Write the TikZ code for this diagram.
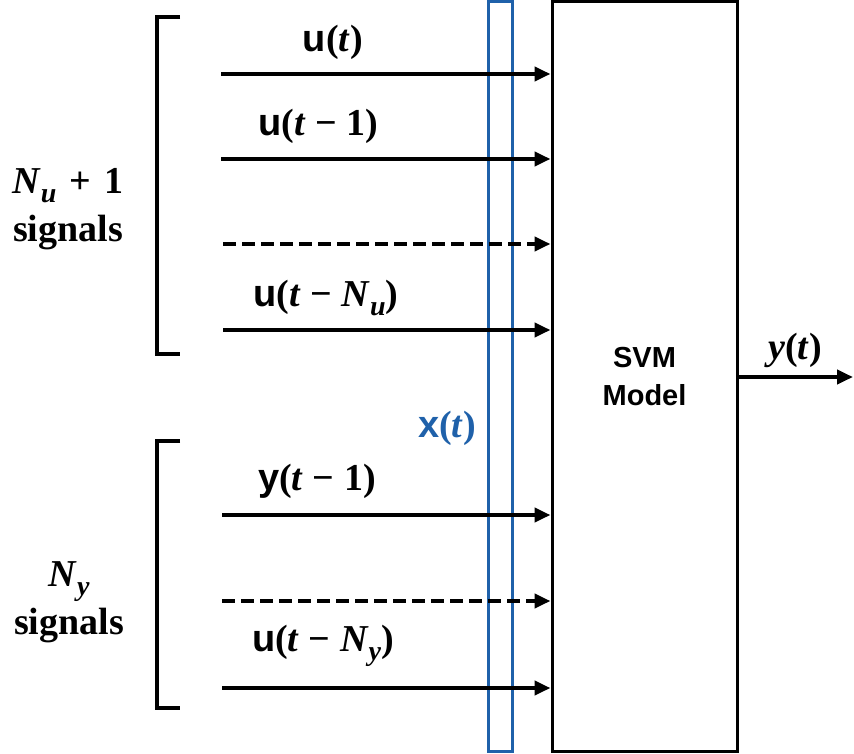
\documentclass[tikz,border=0pt]{standalone}
\usepackage{fontspec}
\setmainfont{Liberation Serif}
\setsansfont{Liberation Sans}
\usetikzlibrary{arrows.meta}
\definecolor{xblue}{RGB}{31,97,170}
\newcommand\tvar{\textbf{\textit{t}}}
\newcommand\uvec{{\sffamily\bfseries u}}
\newcommand\yvec{{\sffamily\bfseries y}}
\newcommand\xvec{{\sffamily\bfseries x}}
\newcommand\msub[1]{\raisebox{-0.25em}{\fontsize{14}{14}\selectfont\textbf{\textit{#1}}}}
\newcommand\mminus{\hspace{0.25em}−\hspace{0.25em}}
\begin{document}
\begin{tikzpicture}[x=0.5pt,y=-0.5pt,
  sig/.style={line width=2pt,-{Triangle[length=8pt,width=7pt]}},
  sigdash/.style={sig,dash pattern=on 6.5pt off 3pt},
  brk/.style={line width=2pt},
  lbl/.style={font=\fontsize{19}{22}\selectfont\bfseries, inner sep=0pt},
  grp/.style={font=\fontsize{19}{24}\selectfont\bfseries, inner sep=0pt, align=center},
  modelbox/.style={draw=black, line width=1.5pt, minimum width=92.5pt, minimum height=374.5pt, inner sep=0pt, font=\sffamily\bfseries\fontsize{14.5}{19}\selectfont, align=center},
  xbox/.style={draw=xblue, line width=1.5pt, minimum width=12pt, minimum height=374.5pt, inner sep=0pt}
]
\useasboundingbox (0,0) rectangle (854,753);

% boxes
\node[modelbox] (svm) at (644.5,376.5) {SVM\\Model};
\node[xbox] (xb) at (500,376.5) {};

% input start points
\coordinate (s1) at (221,74);
\coordinate (s2) at (221,159);
\coordinate (s3) at (223,244);
\coordinate (s4) at (223,330);
\coordinate (s5) at (222,515);
\coordinate (s6) at (222,601);
\coordinate (s7) at (222,688);

\draw[sig] (s1) -- (s1 -| svm.west);
\draw[sig] (s2) -- (s2 -| svm.west);
\draw[sigdash] (s3) -- (s3 -| svm.west);
\draw[sig] (s4) -- (s4 -| svm.west);
\draw[sig] (s5) -- (s5 -| svm.west);
\draw[sigdash] (s6) -- (s6 -| svm.west);
\draw[sig] (s7) -- (s7 -| svm.west);

% output
\coordinate (out) at (853,377);
\draw[sig] (svm.east |- out) -- (out);

% labels
\node[lbl] (l1) at (333,42) {\uvec(\tvar)};
\node[lbl] (l2) at (318,126) {\uvec(\tvar\mminus\textbf{1})};
\node[lbl] (l4) at (326,298) {\uvec(\tvar\mminus\textbf{\textit{N}}\msub{u})};
\node[lbl] (l5) at (317,481) {\yvec(\tvar\mminus\textbf{1})};
\node[lbl] (l7) at (323,646) {\uvec(\tvar\mminus\textbf{\textit{N}}\msub{y})};
\node[lbl, text=xblue] (lx) at (447,428) {\xvec(\tvar)};
\node[lbl] (ly) at (795,350) {\textbf{\textit{y}}(\tvar)};

% brackets
\draw[brk] (180,17) -- (157,17) -- (157,354) -- (180,354);
\draw[brk] (180,441) -- (157,441) -- (157,708) -- (180,708);

% group labels
\node[grp] (g1) at (68,209) {\textbf{\textit{N}}\msub{u}\hspace{0.35em}+\hspace{0.35em}\textbf{1}\\signals};
\node[grp] (g2) at (69,602) {\textbf{\textit{N}}\msub{y}\\signals};
\end{tikzpicture}
\end{document}
